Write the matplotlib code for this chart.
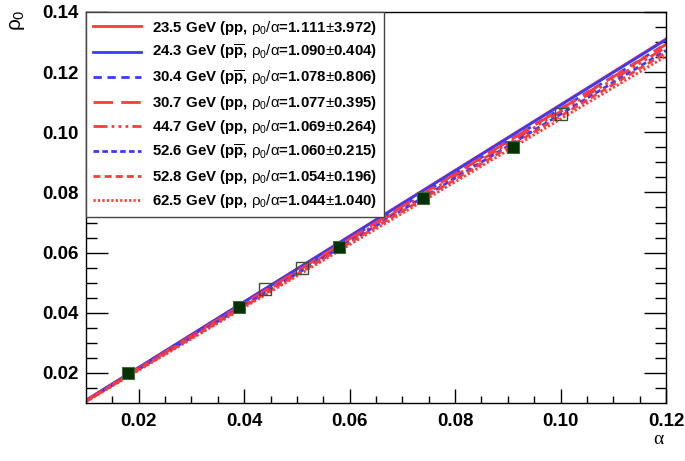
import numpy as np
import matplotlib
matplotlib.use("Agg")
import matplotlib.pyplot as plt

plt.rcParams['font.family'] = ['Liberation Sans', 'DejaVu Sans']
plt.rcParams['mathtext.fontset'] = 'custom'
plt.rcParams['mathtext.rm'] = 'Liberation Sans'
plt.rcParams['mathtext.it'] = 'Liberation Sans'
plt.rcParams['mathtext.bf'] = 'Liberation Sans:bold'

# fit lines rho0 = k * alpha, one per energy
energies = ['23.5', '24.3', '30.4', '30.7', '44.7', '52.6', '52.8', '62.5']
beams = ['pp', 'ppbar', 'ppbar', 'pp', 'pp', 'ppbar', 'pp', 'pp']
ratio = ['1.111', '1.090', '1.078', '1.077', '1.069', '1.060', '1.054', '1.044']
ratio_err = ['3.972', '0.404', '0.806', '0.395', '0.264', '0.215', '0.196', '1.040']
slope_drawn = [1.092, 1.090, 1.078, 1.077, 1.069, 1.060, 1.054, 1.044]
alpha_range = [0.01, 0.12]

# data points
alpha_pp = [0.018, 0.039, 0.058, 0.074, 0.091]
rho_pp = [0.020, 0.042, 0.062, 0.078, 0.095]
alpha_open = [0.044, 0.051, 0.100]
rho_open = [0.048, 0.055, 0.106]

red = '#ff3a3a'
blue = '#3a3aff'
colors = [red, blue, blue, red, red, blue, red, red]
styles = ['-', '-', (0, (3, 2)), (0, (7, 3)), (0, (5, 1.5, 1, 1.5, 1, 1.5, 1, 1.5)),
          (0, (2, 1.2)), (0, (2.5, 1.5)), (0, (0.8, 0.8))]

fig = plt.figure(figsize=(6.85, 4.61), dpi=100)
ax = fig.add_axes([0.1255, 0.1258, 0.9723 - 0.1255, 0.974 - 0.1258])

a = np.array(alpha_range)
handles = []
for i in range(len(energies)):
    if beams[i] == 'pp':
        b = 'pp'
    else:
        b = r'p$\mathbf{\overline{p}}$'
    lab = energies[i] + ' GeV (' + b + r', $\rho_0/\alpha$=' + ratio[i] + r'$\pm$' + ratio_err[i] + ')'
    h, = ax.plot(a, slope_drawn[i] * a, color=colors[i], ls=styles[i], lw=2, label=lab)
    handles.append(h)

ax.plot(alpha_pp, rho_pp, 's', ms=9, color='#003300', mec='#446644', mew=0.8, zorder=5)
ax.plot(alpha_open, rho_open, 's', ms=9, mfc='none', mec='#335533', mew=1.0, zorder=5)

ax.set_xlim(0.01, 0.12)
ax.set_ylim(0.01, 0.14)
ax.set_xticks([0.02, 0.04, 0.06, 0.08, 0.10, 0.12])
ax.set_xticklabels(['0.02', '0.04', '0.06', '0.08', '0.10', '0.12'])
ax.set_yticks([0.02, 0.04, 0.06, 0.08, 0.10, 0.12, 0.14])
ax.set_yticklabels(['0.02', '0.04', '0.06', '0.08', '0.10', '0.12', '0.14'])
ax.set_xticks(np.arange(0.015, 0.12, 0.005), minor=True)
ax.set_yticks(np.arange(0.015, 0.14, 0.005), minor=True)
ax.tick_params(axis='x', which='major', direction='in', length=10, width=1, pad=7,
               labelsize=13.5, top=False)
ax.tick_params(axis='x', which='minor', direction='in', length=5, width=1, top=False)
ax.tick_params(axis='y', which='major', direction='in', length=16, width=1, pad=5,
               labelsize=13.5, right=True)
ax.tick_params(axis='y', which='minor', direction='in', length=8, width=1, right=True)
for t in ax.get_xticklabels() + ax.get_yticklabels():
    t.set_fontweight('bold')
for s in ax.spines.values():
    s.set_linewidth(1)

fig.text(0.026, 0.955, r'$\rho_0$', rotation=90, fontsize=15, ha='center', va='center')
fig.text(0.961, 0.047, 'α', fontsize=14, ha='center', va='center', family='Liberation Serif')

leg = ax.legend(handles=handles, loc='upper left', bbox_to_anchor=(0, 1), borderaxespad=0,
                handlelength=3.2, handletextpad=0.75, labelspacing=0.42,
                borderpad=0.45, fancybox=False, framealpha=1, prop={'weight': 'bold', 'size': 10.8})
leg.get_frame().set_edgecolor('#444444')
leg.get_frame().set_linewidth(1)

fig.savefig('out.png', dpi=100)
